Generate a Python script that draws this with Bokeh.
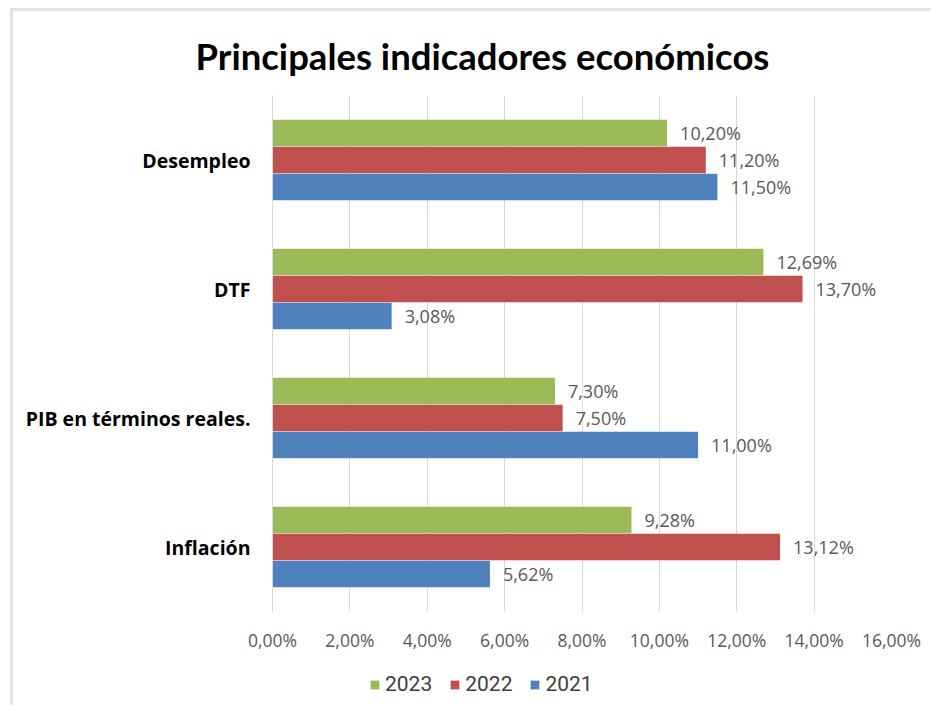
from bokeh.plotting import figure
from bokeh.layouts import column
from bokeh.models import (FactorRange, ColumnDataSource, LabelSet, Legend, LegendItem,
                          FixedTicker)
from bokeh.core.properties import value
from bokeh.transform import dodge
from bokeh.embed import file_html
from bokeh.resources import INLINE

categories = ["Desempleo", "DTF", "PIB en términos reales.", "Inflación"]
series_names = ["2023", "2022", "2021"]
v2023 = [10.20, 12.69, 7.30, 9.28]
v2022 = [11.20, 13.70, 7.50, 13.12]
v2021 = [11.50, 3.08, 11.00, 5.62]
x_ticks = [0, 2, 4, 6, 8, 10, 12, 14, 16]
colors = ["#9BBB59", "#C0504D", "#4F81BD"]

def fmt(v):
    return ("%.2f%%" % v).replace(".", ",")

p = figure(width=917, height=649, output_backend="svg", toolbar_location=None,
           y_range=FactorRange(factors=categories[::-1]), x_range=(0, 16),
           title="Principales indicadores económicos")
p.min_border_left = 259
p.min_border_right = 39
p.min_border_top = 84
p.min_border_bottom = 49
p.outline_line_color = None
p.background_fill_color = "white"
p.border_fill_color = "white"

p.title.text_font = "Lato"
p.title.text_font_style = "bold"
p.title.text_font_size = "36.5px"
p.title.text_color = "#000000"
p.title.align = "left"
p.title.offset = -77
p.title.standoff = 35

offsets = [0.209, 0.0, -0.209]
values = [v2023, v2022, v2021]
renderers = []
for name, vals, col, off in zip(series_names, values, colors, offsets):
    src = ColumnDataSource(dict(cat=categories, val=vals, txt=[fmt(v) for v in vals]))
    r = p.hbar(y=dodge("cat", off, range=p.y_range), right="val", left=0, height=0.206,
               source=src, fill_color=col, line_color=None)
    renderers.append(r)
    lbl = LabelSet(x="val", y=dodge("cat", off, range=p.y_range), text="txt", source=src,
                   x_offset=13, text_baseline="middle", text_align="left",
                   text_font=value("Open Sans"), text_font_size=value("18px"),
                   text_color=value("#595959"))
    p.add_layout(lbl)

p.xaxis.ticker = FixedTicker(ticks=x_ticks)
p.xaxis.major_label_overrides = {t: fmt(t) for t in x_ticks}
p.xaxis.axis_line_color = None
p.xaxis.major_tick_line_color = None
p.xaxis.minor_tick_line_color = None
p.xaxis.major_tick_out = 0
p.xaxis.major_tick_in = 0
p.xaxis.minor_tick_out = 0
p.xaxis.major_label_text_font = "Open Sans"
p.xaxis.major_label_text_font_size = "17.5px"
p.xaxis.major_label_text_color = "#595959"
p.xaxis.major_label_standoff = 16

p.yaxis.axis_line_color = "#d9d9d9"
p.yaxis.major_tick_line_color = None
p.yaxis.minor_tick_line_color = None
p.yaxis.major_tick_out = 0
p.yaxis.major_tick_in = 0
p.yaxis.minor_tick_out = 0
p.yaxis.major_label_text_font = "Open Sans"
p.yaxis.major_label_text_font_style = "bold"
p.yaxis.major_label_text_font_size = "19.5px"
p.yaxis.major_label_text_color = "#000000"
p.yaxis.major_label_standoff = 22

p.xgrid.grid_line_color = "#d9d9d9"
p.ygrid.grid_line_color = None

# legend strip
p2 = figure(width=917, height=45, output_backend="svg", toolbar_location=None,
            x_range=(0, 1), y_range=(0, 1), min_border=0)
p2.axis.visible = False
p2.grid.visible = False
p2.outline_line_color = None
p2.border_fill_color = "white"
leg_rs = []
for col in colors:
    leg_rs.append(p2.hbar(y=[-10], left=[0], right=[1], height=0.1,
                          fill_color=col, line_color=None))
legend = Legend(items=[LegendItem(label=n, renderers=[r]) for n, r in zip(series_names, leg_rs)],
                orientation="horizontal", location=(97, 9),
                glyph_width=11, glyph_height=11, label_text_font="Roboto",
                label_text_font_size="21px", label_text_color="#404040",
                border_line_color=None, background_fill_alpha=0, spacing=17,
                label_standoff=5, padding=4, margin=0)
p2.add_layout(legend, "center")

lay = column(p, p2, spacing=0, margin=(8, 0, 0, 10),
             styles={"border-left": "3px solid #e2e2e2", "border-top": "3px solid #e2e2e2"})

open("out.html", "w").write(file_html(lay, INLINE))
